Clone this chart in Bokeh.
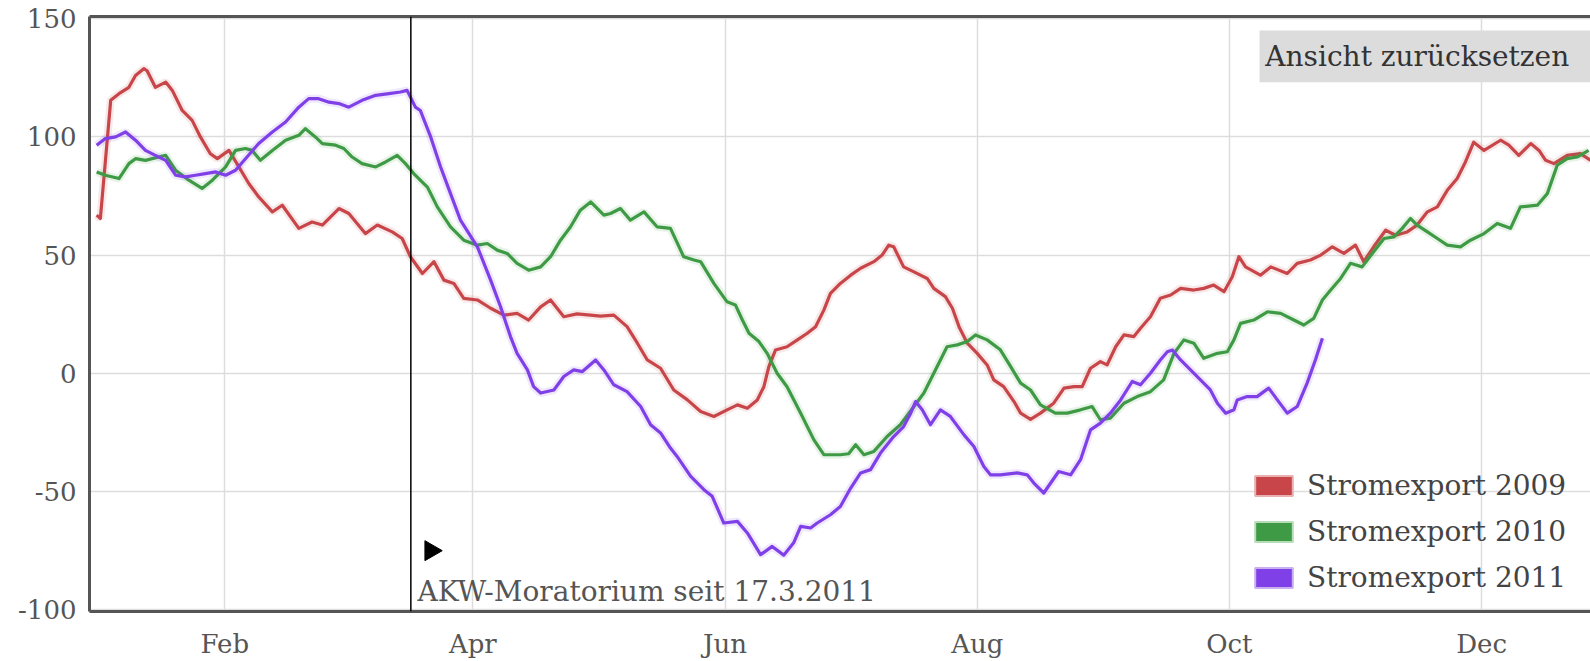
import numpy as np
import pandas as pd
from bokeh.plotting import figure
from bokeh.models import (Range1d, FixedTicker, DatetimeTickFormatter, Span, Label,
                          BoxAnnotation, Legend, LegendItem, LinearAxis, NumeralTickFormatter)
from bokeh.embed import file_html
from bokeh.resources import INLINE

# common (leap) year used for the x axis; days counted from Jan 1
BASE = pd.Timestamp("2012-01-01")

days_2009 = [0, 0.9, 3.4, 5.4, 7.8, 9.4, 11.4, 12.2, 14.2, 16.7, 18.3, 20.7, 23.1, 25.1, 27.5, 29.2,
             32.0, 34.4, 36.8, 39.2, 42.5, 44.9, 48.9, 52.1, 54.6, 58.6, 61.0, 65.0, 67.9, 71.5,
             73.9, 75.9, 78.8, 81.6, 84.0, 86.4, 88.8, 92.1, 95.3, 98.5, 101.7, 104.5, 107.4,
             109.8, 113.0, 116.2, 121.9, 125.1, 128.3, 130.8, 133.2, 136.4, 139.6, 142.9, 146.1,
             149.3, 152.5, 155.0, 157.4, 159.8, 161.4, 162.6, 164.2, 167.0, 169.5, 171.9, 173.9,
             175.9, 177.5, 179.9, 182.4, 184.8, 188.0, 190.0, 191.6, 192.8, 195.2, 197.7, 200.9,
             202.5, 205.3, 207.0, 208.6, 210.6, 213.0, 215.4, 217.0, 219.4, 221.9, 223.5, 225.9,
             228.3, 231.5, 234.0, 236.4, 238.4, 240.4, 242.8, 244.4, 246.5, 248.5, 250.9, 252.5,
             254.9, 257.3, 259.8, 262.2, 265.4, 267.8, 270.2, 272.7, 274.7, 276.3, 277.9, 281.5,
             284.0, 288.0, 290.4, 293.6, 296.1, 298.9, 301.7, 304.5, 306.5, 308.9, 311.8, 314.2,
             317.0, 319.4, 321.9, 324.3, 326.7, 329.1, 331.1, 333.1, 335.6, 339.6, 341.6, 344.0,
             346.9, 348.9, 350.5, 352.5, 355.7, 358.9, 361.4]
vals_2009 = [66.9, 65.5, 115.5, 118.3, 121, 126, 128.9, 128, 121, 123.2, 119.7, 111.2, 107, 100,
             92.9, 90.8, 94.3, 87.3, 80.3, 74.6, 68.3, 71.1, 61.3, 64, 62.7, 69.7, 67.6, 59.1, 62.7,
             59.8, 57, 49.3, 42.2, 47.2, 39.4, 38, 31.7, 31, 27.5, 24.6, 25.3, 22.5, 28.1, 31, 23.9,
             25.1, 24.2, 24.6, 19.7, 12.7, 5.6, 2.1, -7.1, -11.3, -16.2, -18.3, -15.5, -13.4, -14.8,
             -11.3, -5.7, 2.8, 9.8, 11.2, 14.1, 16.9, 19.7, 26.7, 33.8, 38, 41.5, 44.4, 47.2, 50,
             54.2, 53.5, 45, 42.9, 40.1, 35.9, 32.4, 27.5, 19.7, 12.7, 8.4, 3.5, -2.8, -5.7, -12,
             -16.9, -19.5, -16.9, -12.7, -6.3, -5.7, -5.7, 2.1, 4.9, 3.5, 11.2, 16.2, 15.5, 19, 23.9,
             31.7, 33.1, 35.9, 35.2, 35.9, 37.3, 34.5, 40.8, 49.3, 45, 41.5, 45, 42.2, 46.5, 47.9,
             50, 53.5, 50.7, 54.2, 47.2, 53.5, 60.5, 58.4, 59.8, 62.7, 68.3, 70.4, 77.4, 82.4, 89.4,
             97.8, 94.3, 98.6, 96.5, 92.2, 97.2, 94.3, 90.1, 88.7, 92.2, 92.9, 90.1]

days_2010 = [0, 2.1, 5.4, 7.8, 9.4, 11.8, 15.0, 16.7, 19.1, 22.3, 25.5, 28.0, 31.2, 33.6, 36.0, 37.6,
             39.6, 42.5, 45.7, 48.9, 50.5, 52.9, 54.6, 57.8, 59.8, 61.8, 64.2, 67.5, 69.9, 72.7,
             74.7, 76.7, 80.0, 82.4, 85.6, 88.8, 92.1, 94.5, 96.9, 99.3, 101.7, 104.5, 107.4,
             109.8, 112.2, 114.6, 117.0, 119.5, 122.7, 124.3, 126.7, 129.1, 132.4, 135.6, 138.8,
             142.0, 144.5, 146.1, 149.3, 152.5, 154.5, 156.2, 157.8, 160.2, 162.2, 164.6, 167.0,
             170.3, 173.5, 175.9, 179.9, 181.9, 183.6, 185.6, 188.0, 191.2, 194.4, 197.7, 200.1,
             202.5, 204.1, 205.7, 208.2, 210.6, 212.6, 215.4, 218.6, 221.1, 223.5, 225.9, 228.3,
             231.9, 234.8, 238.0, 240.8, 242.8, 245.2, 248.5, 251.7, 254.9, 258.1, 260.6, 263.0,
             265.4, 267.8, 271.1, 273.5, 275.1, 276.7, 279.9, 283.2, 286.4, 289.6, 292.0, 294.4,
             296.5, 298.5, 300.9, 303.3, 306.1, 308.9, 311.4, 313.8, 315.8, 317.8, 319.4, 321.9,
             324.3, 326.7, 329.9, 332.3, 335.6, 338.8, 342.0, 344.4, 348.5, 350.9, 353.3, 355.7,
             358.1, 360.9]
vals_2010 = [85.2, 83.8, 82.4, 88.7, 90.8, 90.1, 91.5, 92.2, 85.9, 81.7, 78.2, 81.7, 87.3, 94.3, 95.1,
             94.3, 90.1, 94.3, 98.6, 100.7, 103.5, 100, 97.2, 96.5, 95.1, 91.5, 88.7, 87.3, 89.4,
             92.2, 88.7, 84.5, 78.8, 70.4, 61.9, 56.3, 54.2, 54.9, 52.1, 50.7, 46.5, 43.6, 45, 49.3,
             56.3, 61.9, 69, 72.5, 66.9, 67.6, 69.7, 64.8, 68.3, 61.9, 61.3, 49.3, 47.9, 47.2, 38,
             30.2, 28.9, 22.5, 16.9, 13.4, 8.4, 0, -5.7, -16.9, -28.2, -34.5, -34.5, -34.1, -30.3,
             -34.5, -33.1, -26.8, -21.8, -14.1, -8.4, 0, 5.6, 11.2, 12, 13.4, 16.2, 14.1, 9.9, 2.8,
             -4.2, -7.1, -13.4, -16.9, -16.9, -15.5, -14.1, -19.7, -19, -12.7, -9.9, -7.8, -2.8, 8.4,
             14.1, 12.7, 6.3, 8.4, 9.1, 14.1, 21.1, 22.5, 26, 25.3, 22.5, 20.4, 23.2, 31, 35.2, 40.1,
             46.5, 45, 51.4, 57, 57.7, 61.3, 65.5, 62.7, 59.8, 57, 54.2, 53.5, 56.3, 59.1, 63.4,
             61.3, 70.4, 71.1, 76, 88, 90.8, 91.5, 94.3]

days_2011 = [0, 2.1, 4.6, 7.0, 9.4, 11.8, 14.2, 16.7, 19.1, 21.5, 23.9, 26.3, 28.8, 31.2, 33.6, 36.0,
             39.2, 42.5, 45.7, 48.9, 51.3, 53.7, 56.2, 58.6, 61.0, 64.2, 67.5, 70.7, 73.5, 75.1,
             77.1, 78.3, 80.8, 83.2, 85.6, 88.0, 92.1, 95.3, 97.7, 100.1, 101.7, 104.2, 105.7,
             107.4, 110.6, 113.0, 115.4, 117.5, 120.7, 122.7, 125.1, 128.3, 131.6, 134.0, 136.4,
             138.8, 140.4, 143.7, 146.9, 148.9, 151.7, 155.0, 157.4, 160.6, 163.4, 166.2, 168.6,
             170.3, 172.7, 174.3, 177.5, 179.9, 182.4, 184.8, 187.2, 189.6, 192.8, 195.2, 196.9,
             198.1, 199.7, 201.7, 204.1, 206.5, 209.8, 212.2, 214.6, 216.2, 218.6, 222.7, 225.1,
             226.7, 229.1, 232.7, 235.6, 238.0, 240.4, 242.8, 245.2, 247.7, 250.5, 252.5, 254.9,
             257.3, 259.0, 260.2, 262.2, 264.6, 267.0, 269.4, 271.1, 273.1, 275.1, 275.9, 278.3,
             280.7, 283.5, 285.6, 288.0, 290.4, 292.8, 294.8, 296.5]
vals_2011 = [96.5, 99.3, 100, 102.1, 98.6, 94.3, 92.2, 90.1, 83.8, 83.1, 83.8, 84.5, 85.2, 83.8, 85.9,
             90.8, 97.2, 102.1, 106.3, 112.6, 116.2, 116.2, 114.7, 114.1, 112.6, 115.5, 117.6, 118.3,
             119, 119.7, 112.6, 111.2, 100, 87.3, 76, 64.8, 53.5, 39.4, 28.1, 15.5, 8.4, 1.4, -5.7,
             -8.4, -7.1, -1.4, 1.4, 0.7, 5.6, 1.4, -4.9, -7.8, -14.1, -21.8, -25.3, -31.7, -35.2,
             -43.7, -49.3, -52.1, -63.4, -62.7, -67.6, -76.8, -73.3, -77, -71.8, -64.8, -65.5, -63.4,
             -59.9, -56.4, -48.6, -42.2, -40.8, -33.8, -26.8, -22.6, -16.9, -12, -15.5, -21.8, -15.5,
             -18.3, -26.1, -31, -39.5, -43, -43, -42.2, -43, -46.5, -50.7, -41.6, -43, -36.6, -24,
             -21.1, -16.9, -11.3, -3.5, -4.9, 0, 5.6, 9.1, 9.8, 5.6, 1.4, -2.8, -7.1, -12.7, -16.9,
             -15.5, -11.3, -9.9, -9.9, -6.3, -11.3, -16.9, -14.1, -4.2, 5.6, 14.8]

series_names = ["Stromexport 2009", "Stromexport 2010", "Stromexport 2011"]
series_colors = ["#c8464a", "#3f9a45", "#8040e8"]
legend_edge = ["#e8b0b0", "#b5dcb5", "#c8b0f0"]
month_ticks = ["2012-02-01", "2012-04-01", "2012-06-01", "2012-08-01", "2012-10-01", "2012-12-01"]
y_ticks = [-100, -50, 0, 50, 100, 150]
moratorium_date = "2012-03-17"
moratorium_text = "AKW-Moratorium seit 17.3.2011"
reset_text = "Ansicht zurücksetzen"

FONT = "DejaVu Serif"


def to_ms(ts):
    return pd.Timestamp(ts).value / 1e6


def day_ms(d):
    return (BASE + pd.Timedelta(days=d)).value / 1e6


p = figure(width=1590, height=661, output_backend="svg", toolbar_location=None,
           x_axis_type="datetime",
           x_range=Range1d(day_ms(-1.73), day_ms(361.35)),
           y_range=Range1d(-100.85, 150.97),
           min_border_left=89, min_border_right=0, min_border_top=16, min_border_bottom=49)
p.outline_line_color = None
p.background_fill_color = "white"
p.border_fill_color = "white"

# axes
p.xaxis.ticker = FixedTicker(ticks=[to_ms(t) for t in month_ticks])
p.xaxis.formatter = DatetimeTickFormatter(days="%b", months="%b", years="%b", hours="%b",
                                          hourmin="%b", minutes="%b", minsec="%b", seconds="%b",
                                          milliseconds="%b", microseconds="%b")
p.yaxis.ticker = FixedTicker(ticks=y_ticks)
p.yaxis.formatter = NumeralTickFormatter(format="0")
for ax in (p.xaxis[0], p.yaxis[0]):
    ax.axis_line_color = "#555555"
    ax.axis_line_width = 3
    ax.major_tick_line_color = None
    ax.minor_tick_line_color = None
    ax.major_tick_out = 0
    ax.major_tick_in = 0
    ax.minor_tick_out = 0
    ax.major_label_text_font = FONT
    ax.major_label_text_color = "#555555"
p.xaxis.major_label_text_font_size = "26px"
p.yaxis.major_label_text_font_size = "26px"
p.xaxis.major_label_standoff = 17
p.yaxis.major_label_standoff = 13

top_axis = LinearAxis(ticker=FixedTicker(ticks=[]), major_label_text_font_size="0px",
                      axis_line_color="#555555", axis_line_width=3, major_tick_out=0,
                      major_tick_in=0, minor_tick_out=0, minor_tick_in=0, major_label_standoff=0)
p.add_layout(top_axis, "above")

p.xgrid.grid_line_color = "#dddddd"
p.ygrid.grid_line_color = "#dddddd"
p.xgrid.grid_line_width = 1.5
p.ygrid.grid_line_width = 1.5

# lines
all_days = [days_2009, days_2010, days_2011]
all_vals = [vals_2009, vals_2010, vals_2011]
legend_items = []
for name, col, edge, dd, vv in zip(series_names, series_colors, legend_edge, all_days, all_vals):
    xs = BASE + pd.to_timedelta(np.array(dd), unit="D")
    p.line(xs, vv, line_color=col, line_width=8, line_alpha=0.12)
    p.line(xs, vv, line_color=col, line_width=3.2, line_join="round")
    proxy = p.quad(left=[np.nan], right=[np.nan], top=[np.nan], bottom=[np.nan],
                   fill_color=col, line_color=edge, line_width=2)
    legend_items.append(LegendItem(label=name, renderers=[proxy]))

legend = Legend(items=legend_items, location=(1161, 17), padding=0, margin=0,
                border_line_color=None, background_fill_alpha=0,
                label_text_font=FONT, label_text_font_size="28px", label_text_color="#444444",
                glyph_width=47, glyph_height=25, label_height=32, spacing=13, label_standoff=10)
p.add_layout(legend)

# moratorium marker
p.add_layout(Span(location=to_ms(moratorium_date), dimension="height", line_color="black",
                  line_width=1.5))
p.scatter([BASE + pd.Timedelta(days=80.8)], [-75.1], marker="triangle", size=20,
          angle=-np.pi / 2, fill_color="black", line_color="black")
p.add_layout(Label(x=day_ms(77.6), y=-92.3, text=moratorium_text, text_font=FONT,
                   text_font_size="28px", text_color="#555555", text_baseline="alphabetic"))

# reset-view button
p.add_layout(BoxAnnotation(left=day_ms(281.3), bottom=123.1, top=145.0, fill_color="#dcdcdc",
                           fill_alpha=1, line_color=None))
p.add_layout(Label(x=day_ms(282.7), y=134, text=reset_text, text_font=FONT,
                   text_font_size="28px", text_color="#333333", text_baseline="middle"))

open("out.html", "w").write(file_html(p, INLINE))
